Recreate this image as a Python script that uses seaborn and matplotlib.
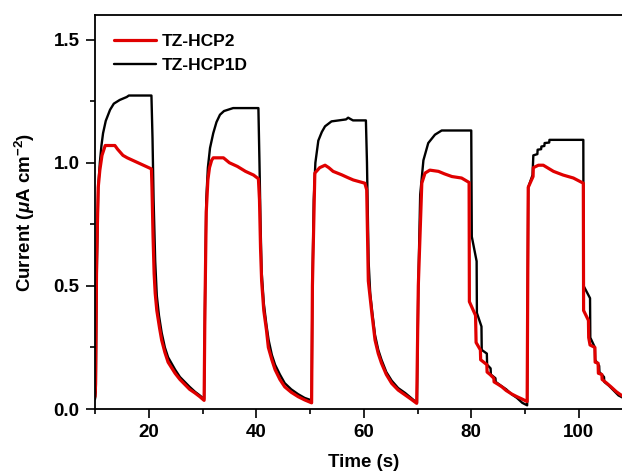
import numpy as np
import pandas as pd
import matplotlib
matplotlib.use("Agg")
import matplotlib.pyplot as plt
from matplotlib.ticker import MultipleLocator, FixedLocator
from matplotlib.lines import Line2D
import seaborn as sns

# ---------------- data ----------------
series_names = ["TZ-HCP2", "TZ-HCP1D"]

t_hcp1d = [10.0, 10.15, 10.3, 10.6, 10.9, 11.2, 11.5, 12.0, 12.8, 13.5, 14.6, 15.9, 16.3, 20.5,
           20.7, 20.9, 21.2, 21.5, 21.9, 22.4, 23.0, 23.6, 24.9, 25.8, 26.7, 27.6, 28.6, 29.5, 30.3,
           30.5, 30.7, 31.0, 31.4, 32.0, 32.6, 33.25, 34.0, 35.7, 40.4,
           40.6, 40.8, 41.0, 41.4, 41.9, 42.3, 42.9, 43.5, 44.4, 45.3, 46.5, 47.8, 49.0, 50.3,
           50.45, 50.7, 51.0, 51.55, 52.2, 52.8, 54.0, 56.7, 57.1, 57.5, 58.0, 60.4,
           60.6, 60.9, 61.2, 61.6, 62.1, 62.7, 63.3, 64.2, 65.2, 66.4, 67.7, 68.8, 69.9,
           70.15, 70.5, 71.1, 72.0, 73.25, 74.5, 80.0,
           80.1, 81.0, 81.05, 81.9, 81.95, 82.9, 82.95, 83.6, 83.65, 84.5, 84.55, 85.5, 86.5, 87.5, 88.5, 89.5, 90.4,
           90.6, 91.4, 91.55, 92.3, 92.35, 93.0, 93.05, 93.6, 93.65, 94.5, 94.55, 100.85,
           100.9, 102.1, 102.15, 103.0, 103.05, 103.8, 103.85, 104.7, 104.75, 105.6, 106.5, 107.4, 108.3]
i_hcp1d = [0.04, 0.07, 0.5, 0.9, 1.0, 1.07, 1.12, 1.17, 1.215, 1.24, 1.255, 1.267, 1.273, 1.273,
           1.1, 0.85, 0.6, 0.46, 0.38, 0.31, 0.25, 0.21, 0.16, 0.13, 0.11, 0.09, 0.07, 0.055, 0.04,
           0.5, 0.85, 0.98, 1.06, 1.12, 1.165, 1.195, 1.21, 1.222, 1.222,
           1.0, 0.75, 0.56, 0.43, 0.34, 0.28, 0.22, 0.18, 0.14, 0.105, 0.08, 0.06, 0.045, 0.035,
           0.5, 0.85, 1.0, 1.09, 1.125, 1.148, 1.168, 1.176, 1.183, 1.178, 1.172, 1.172,
           1.0, 0.6, 0.47, 0.39, 0.30, 0.24, 0.20, 0.15, 0.115, 0.085, 0.065, 0.045, 0.025,
           0.5, 0.87, 1.01, 1.08, 1.114, 1.131, 1.131,
           0.70, 0.60, 0.39, 0.335, 0.24, 0.225, 0.18, 0.165, 0.14, 0.125, 0.11, 0.095, 0.08, 0.06, 0.045, 0.025, 0.015,
           0.90, 0.95, 1.03, 1.035, 1.053, 1.055, 1.066, 1.068, 1.08, 1.082, 1.093, 1.093,
           0.50, 0.45, 0.29, 0.25, 0.20, 0.175, 0.15, 0.13, 0.11, 0.095, 0.075, 0.055, 0.045]

t_hcp2 = [10.0, 10.1, 10.3, 10.6, 10.9, 11.3, 11.9, 13.7, 14.2, 15.2, 16.0, 17.0, 18.0, 19.0, 20.5,
          20.6, 20.8, 21.0, 21.2, 21.5, 22.0, 22.4, 23.0, 23.6, 24.9, 25.8, 26.7, 27.6, 28.6, 29.5, 30.3,
          30.45, 30.7, 31.0, 31.3, 31.7, 32.0, 33.9, 35.0, 36.5, 38.0, 39.5, 40.4,
          40.6, 40.8, 41.0, 41.4, 41.9, 42.25, 42.9, 43.5, 44.4, 45.3, 46.5, 47.8, 49.0, 50.3,
          50.45, 50.9, 51.8, 52.8, 53.5, 54.3, 55.9, 57.0, 58.06, 60.2,
          60.55, 60.85, 61.5, 62.1, 62.7, 63.3, 64.2, 65.2, 66.4, 67.7, 68.8, 69.85,
          70.15, 70.8, 71.4, 72.3, 73.9, 75.0, 76.4, 78.2, 79.6,
          79.65, 80.8, 80.9, 81.7, 81.75, 82.9, 82.95, 83.5, 84.2, 84.25, 85.0, 85.7, 86.5, 87.6, 88.5, 89.5, 90.4,
          90.6, 91.5, 91.55, 92.5, 93.4, 95.3, 97.1, 99.0, 100.85,
          100.9, 101.8, 101.85, 102.1, 103.0, 103.05, 103.6, 103.65, 104.3, 104.35, 105.2, 106.0, 107.0, 108.3]
i_hcp2 = [0.05, 0.10, 0.6, 0.9, 0.97, 1.03, 1.07, 1.07, 1.055, 1.03, 1.02, 1.01, 1.0, 0.99, 0.975,
          0.9, 0.7, 0.55, 0.47, 0.40, 0.33, 0.28, 0.23, 0.19, 0.145, 0.12, 0.10, 0.08, 0.065, 0.05, 0.035,
          0.4, 0.8, 0.93, 0.98, 1.01, 1.02, 1.02, 1.0, 0.985, 0.965, 0.95, 0.935,
          0.85, 0.65, 0.52, 0.40, 0.32, 0.25, 0.20, 0.16, 0.12, 0.09, 0.068, 0.05, 0.037, 0.025,
          0.5, 0.958, 0.98, 0.99, 0.98, 0.965, 0.951, 0.94, 0.93, 0.917,
          0.89, 0.52, 0.39, 0.28, 0.225, 0.186, 0.14, 0.104, 0.077, 0.057, 0.04, 0.023,
          0.5, 0.917, 0.958, 0.97, 0.965, 0.955, 0.944, 0.938, 0.92,
          0.436, 0.38, 0.27, 0.24, 0.20, 0.18, 0.15, 0.14, 0.125, 0.11, 0.10, 0.09, 0.075, 0.06, 0.05, 0.04, 0.03,
          0.90, 0.944, 0.98, 0.99, 0.99, 0.965, 0.95, 0.938, 0.917,
          0.40, 0.36, 0.29, 0.26, 0.25, 0.19, 0.186, 0.145, 0.14, 0.12, 0.105, 0.09, 0.07, 0.05]

x_major_ticks = [20, 40, 60, 80, 100]
y_major_ticks = [0.0, 0.5, 1.0, 1.5]
y_tick_labels = ["0.0", "0.5", "1.0", "1.5"]

df = pd.concat([
    pd.DataFrame({"Time": t_hcp1d, "Current": i_hcp1d, "Sample": series_names[1]}),
    pd.DataFrame({"Time": t_hcp2, "Current": i_hcp2, "Sample": series_names[0]}),
], ignore_index=True)

# ---------------- style ----------------
sns.set_theme(style="ticks")
plt.rcParams["font.family"] = ["Liberation Sans", "DejaVu Sans"]
plt.rcParams["font.weight"] = "bold"
plt.rcParams["text.color"] = "black"
plt.rcParams["axes.labelcolor"] = "black"
plt.rcParams["xtick.color"] = "black"
plt.rcParams["ytick.color"] = "black"
plt.rcParams["mathtext.fontset"] = "custom"
plt.rcParams["mathtext.rm"] = "Liberation Sans:bold"
plt.rcParams["mathtext.it"] = "Liberation Sans:italic:bold"
plt.rcParams["mathtext.bf"] = "Liberation Sans:bold"

RED = "#E00000"
BLACK = "#000000"
LW_RED = 2.3
LW_BLACK = 1.7

fig = plt.figure(figsize=(6.22, 4.75), dpi=100)
# axes extends a bit past the right edge (reference is cropped there)
ax = fig.add_axes([95 / 622, 66 / 475, 537.5 / 622, 394 / 475])

sns.lineplot(data=df[df["Sample"] == series_names[1]], x="Time", y="Current",
             sort=False, estimator=None, color=BLACK, linewidth=LW_BLACK, ax=ax, legend=False)
sns.lineplot(data=df[df["Sample"] == series_names[0]], x="Time", y="Current",
             sort=False, estimator=None, color=RED, linewidth=LW_RED, ax=ax, legend=False)

ax.set_xlim(10, 110)
ax.set_ylim(0, 1.6)
ax.xaxis.set_major_locator(FixedLocator(x_major_ticks))
ax.xaxis.set_minor_locator(MultipleLocator(20, offset=10))
ax.yaxis.set_major_locator(FixedLocator(y_major_ticks))
ax.set_yticklabels(y_tick_labels)
ax.yaxis.set_minor_locator(MultipleLocator(0.25))

for s in ["left", "bottom", "top"]:
    ax.spines[s].set_visible(True)
    ax.spines[s].set_linewidth(1.3)
    ax.spines[s].set_color("black")
ax.spines["right"].set_visible(False)

ax.tick_params(axis="both", which="major", direction="out", length=6.5, width=1.2,
               labelsize=13.5, colors="black", pad=4.5, top=False, right=False)
ax.tick_params(axis="both", which="minor", direction="out", length=3.5, width=1.2,
               top=False, right=False)
for lab in ax.get_xticklabels() + ax.get_yticklabels():
    lab.set_fontweight("bold")

ax.set_xlabel("Time (s)", fontsize=13.5, fontweight="bold", labelpad=9, color="black")
ax.set_ylabel(r"Current ($\mu$A cm$^{-2}$)", fontsize=13.5, fontweight="bold", labelpad=12,
              color="black")

handles = [Line2D([], [], color=RED, linewidth=LW_RED), Line2D([], [], color=BLACK, linewidth=LW_BLACK)]
leg = ax.legend(handles, series_names, loc="upper left", bbox_to_anchor=(0.036, 0.953),
                frameon=False, borderaxespad=0, borderpad=0, handlelength=2.4,
                handletextpad=0.35, labelspacing=0.55, prop={"size": 12.5, "weight": "bold"},
                labelcolor="black")

fig.savefig("out.png", dpi=100)
